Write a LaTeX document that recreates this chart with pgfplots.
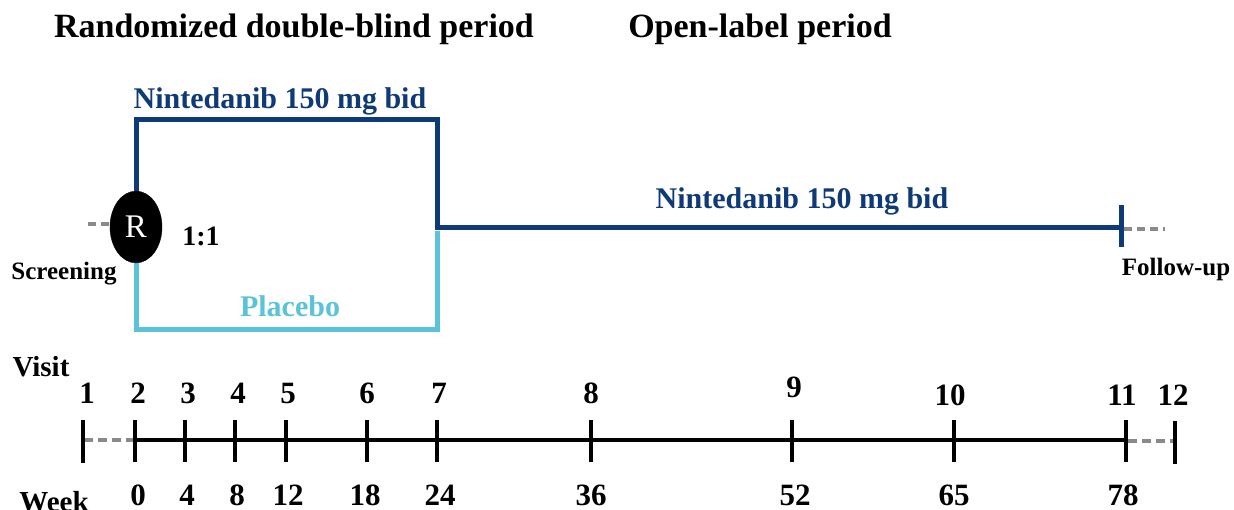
\documentclass[border=0pt]{standalone}
\usepackage{pgfplots}
\pgfplotsset{compat=1.18}
\usepackage{fontspec}
\setmainfont{Liberation Serif}
\definecolor{dblue}{HTML}{0E3A78}
\definecolor{lblue}{HTML}{5BC3D9}
\definecolor{dgray}{HTML}{8A8A8A}
\begin{document}
\begin{tikzpicture}
\begin{axis}[
  scale only axis, width=1234pt, height=510pt,
  xmin=0, xmax=1234, ymin=0, ymax=510, y dir=reverse,
  hide axis, clip=false,
]
% treatment arms
\addplot[dblue, line width=5pt, line join=miter, no marks] coordinates {(136,200) (136,120) (437,120) (437,228) (1121,228)};
\addplot[lblue, line width=5pt, line join=miter, no marks] coordinates {(136,255) (136,330) (437,330) (437,231)};
\addplot[dblue, line width=5pt, no marks] coordinates {(1121,205) (1121,247)};
\addplot[dgray, line width=3.5pt, dash pattern=on 8pt off 5pt, no marks] coordinates {(88,224) (112,224)};
\addplot[dgray, line width=3.5pt, dash pattern=on 8pt off 5pt, no marks] coordinates {(1124,229) (1165,229)};
% randomisation circle
\addplot[only marks, mark=*, mark size=26pt, mark options={yscale=1.38, fill=black, draw=black},
  nodes near coords={R},
  every node near coord/.style={anchor=center, white, inner sep=0pt, font=\fontsize{33}{36}\selectfont}]
  coordinates {(136,227)};
% timeline
\addplot[black, line width=4pt, no marks] coordinates {(135,440) (1126,440)};
\addplot[dgray, line width=3.5pt, dash pattern=on 9pt off 5pt, no marks] coordinates {(84,440) (133,440)};
\addplot[dgray, line width=3.5pt, dash pattern=on 9pt off 5pt, no marks] coordinates {(1128,441) (1175,441)};
\pgfplotsinvokeforeach{135,185,235,286,367,437,591,792,954,1126}{
  \addplot[black, line width=4pt, no marks] coordinates {(#1,420) (#1,462)};
}
\addplot[black, line width=4pt, no marks] coordinates {(83,420) (83,463)};
\addplot[black, line width=4pt, no marks] coordinates {(1175,421) (1175,464)};
% texts
\tikzset{t/.style={anchor=base, inner sep=0pt, text depth=0pt, font=\bfseries\fontsize{#1}{#1}\selectfont}}
\node[t=34] at (axis cs:294,38) {Randomized double-blind period};
\node[t=34] at (axis cs:760,38) {Open-label period};
\node[t=30, dblue] at (axis cs:280,109) {Nintedanib 150 mg bid};
\node[t=30, dblue] at (axis cs:802,209) {Nintedanib 150 mg bid};
\node[t=30, lblue] at (axis cs:290,317) {Placebo};
\node[t=28] at (axis cs:201,246) {1:1};
\node[t=25] at (axis cs:64,280) {Screening};
\node[t=25] at (axis cs:1176,276) {Follow-up};
\node[t=29] at (axis cs:41,377) {Visit};
\node[t=29] at (axis cs:54,511) {Week};
\node[t=31] at (axis cs:87,403) {1};
\node[t=31] at (axis cs:138,403) {2};
\node[t=31] at (axis cs:188,403) {3};
\node[t=31] at (axis cs:238,403) {4};
\node[t=31] at (axis cs:288,403) {5};
\node[t=31] at (axis cs:367,403) {6};
\node[t=31] at (axis cs:439,403) {7};
\node[t=31] at (axis cs:591,403) {8};
\node[t=31] at (axis cs:794,398) {9};
\node[t=31] at (axis cs:950,406) {10};
\node[t=31] at (axis cs:1122,405) {11};
\node[t=31] at (axis cs:1173,405) {12};
\node[t=31] at (axis cs:138,505) {0};
\node[t=31] at (axis cs:187,505) {4};
\node[t=31] at (axis cs:237,505) {8};
\node[t=31] at (axis cs:288,505) {12};
\node[t=31] at (axis cs:365,505) {18};
\node[t=31] at (axis cs:440,505) {24};
\node[t=31] at (axis cs:591,505) {36};
\node[t=31] at (axis cs:795,505) {52};
\node[t=31] at (axis cs:954,505) {65};
\node[t=31] at (axis cs:1123,505) {78};
\end{axis}
\pgfresetboundingbox
\path (current axis.south west) rectangle (current axis.north east);
\end{tikzpicture}
\end{document}
